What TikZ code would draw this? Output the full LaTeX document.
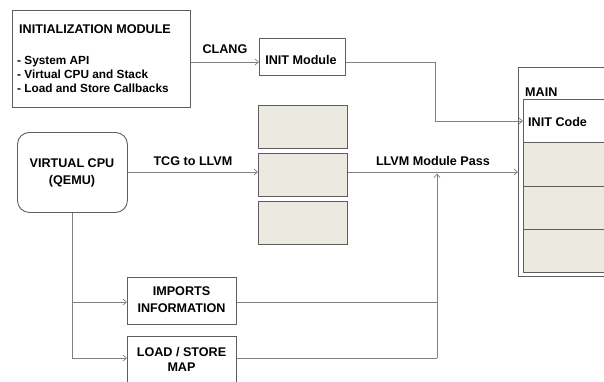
\documentclass[tikz,border=0pt]{standalone}
\usepackage{fontspec}
\setmainfont{Liberation Sans}
\usetikzlibrary{arrows.meta}
\definecolor{linegray}{HTML}{808080}
\definecolor{boxgray}{HTML}{5E5E5E}
\definecolor{beige}{HTML}{ECE9E0}
\begin{document}
\begin{tikzpicture}[x=1pt,y=-1pt,
  every node/.style={font=\fontsize{12.6}{17}\selectfont\bfseries, inner sep=0pt},
  box/.style={draw=boxgray, line width=0.9pt, fill=white},
  bbox/.style={draw=boxgray, line width=0.9pt, fill=beige},
  conn/.style={draw=linegray, line width=0.9pt},
  arr/.style={conn, -{Straight Barb[length=3.5pt,width=6pt,line width=0.7pt]}},
  lbl/.style={anchor=center}]
\useasboundingbox (0,0) rectangle (604,381);
\begin{scope}
\clip (0,0) rectangle (604,381);
% initialization module
\node[box, anchor=north west, minimum width=178pt, minimum height=97pt] (initbox) at (12,10) {};
\node[anchor=west] (inittitle) at (19,29) {INITIALIZATION MODULE};
\node[anchor=north west, align=left, font=\fontsize{11.8}{14}\selectfont\bfseries] (initlist) at (17,56) {- System API\\- Virtual CPU and Stack\\- Load and Store Callbacks};
% INIT Module
\node[box, anchor=north west, minimum width=86pt, minimum height=37pt] (initmod) at (259,38) {};
\node (initmodtxt) at (301,60) {INIT Module};
% stack boxes
\node[bbox, anchor=north west, minimum width=89pt, minimum height=43pt] (s1) at (258,105) {};
\node[bbox, anchor=north west, minimum width=89pt, minimum height=43pt] (s2) at (258,153) {};
\node[bbox, anchor=north west, minimum width=89pt, minimum height=43pt] (s3) at (258,201) {};
% virtual cpu
\node[box, rounded corners=12pt, anchor=north west, minimum width=110pt, minimum height=80pt] (vcpu) at (17,132) {};
\node[align=center] (vcputxt) at (72,173) {VIRTUAL CPU\\(QEMU)};
% imports / load store
\node[box, anchor=north west, minimum width=109pt, minimum height=47pt] (imp) at (127,277) {};
\node[align=center] (imptxt) at (181.5,300) {IMPORTS\\INFORMATION};
\node[box, anchor=north west, minimum width=109pt, minimum height=60pt] (ls) at (127,336) {};
\node[align=center, font=\fontsize{12.6}{15}\selectfont\bfseries] (lstxt) at (181.5,359) {LOAD / STORE\\MAP};
% MAIN
\node[box, anchor=north west, minimum width=100pt, minimum height=209pt] (mainbox) at (518,67) {};
\node[anchor=west] (maintxt) at (525,92) {MAIN};
\node[box, anchor=north west, minimum width=95pt, minimum height=43pt] (r0) at (523,99) {};
\node[bbox, anchor=north west, minimum width=95pt, minimum height=44pt] (r1) at (523,142) {};
\node[bbox, anchor=north west, minimum width=95pt, minimum height=43pt] (r2) at (523,186) {};
\node[bbox, anchor=north west, minimum width=95pt, minimum height=43pt] (r3) at (523,229) {};
\node[anchor=west] (inittxt) at (528,122) {INIT Code};
% coordinates
\coordinate (c1) at (435,62);
\coordinate (c2) at (435,121);
\coordinate (j1) at (72,302);
\coordinate (j2) at (72,358);
\coordinate (m1) at (437,302);
\coordinate (m2) at (437,358);
\coordinate (mt) at (437,173.5);
% connectors
\draw[arr] (initbox.east |- 0,62) -- (initmod.west |- 0,62) node[midway, above=8pt] (clang) {CLANG};
\draw[conn] (initmod.east |- c1) -- (c1) -- (c2);
\draw[arr] (c2) -- (r0.west |- c2);
\draw[arr] (vcpu.east |- 0,172) -- (s2.west |- 0,172) node[midway, above=6pt] (tcg) {TCG to LLVM};
\draw[arr] (s2.east |- 0,172) -- (mainbox.west |- 0,172) node[midway, above=6pt] (llvm) {LLVM Module Pass};
\draw[conn] (vcpu.south -| j1) -- (j2);
\draw[arr] (j1) -- (imp.west |- j1);
\draw[arr] (j2) -- (ls.west |- j2);
\draw[conn] (imp.east |- m1) -- (m1);
\draw[conn] (ls.east |- m2) -- (m2);
\draw[arr] (m2) -- (mt);
\end{scope}
\end{tikzpicture}
\end{document}
